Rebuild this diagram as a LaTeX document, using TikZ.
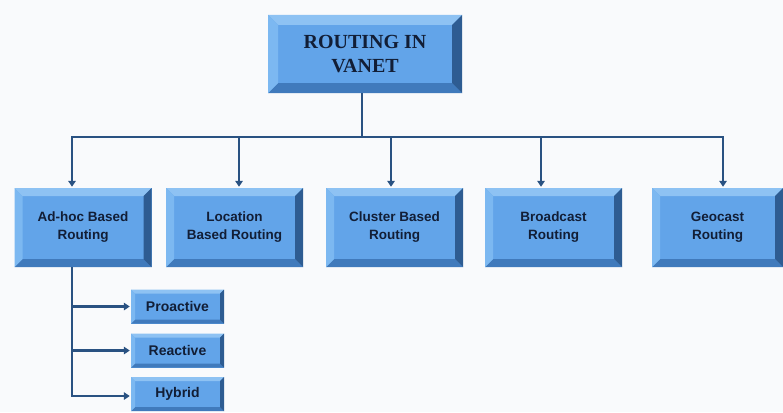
\documentclass[tikz,border=0pt]{standalone}
\usepackage{fontspec}
\setmainfont{Liberation Sans}
\newfontfamily\serifbold{Liberation Serif}
\usetikzlibrary{arrows.meta}
\definecolor{face}{RGB}{98,164,233}
\definecolor{bevT}{RGB}{142,194,243}
\definecolor{bevL}{RGB}{124,184,241}
\definecolor{bevR}{RGB}{46,92,146}
\definecolor{bevB}{RGB}{64,122,188}
\definecolor{lineC}{RGB}{42,82,130}
\definecolor{txt}{RGB}{18,30,54}
\definecolor{bg}{RGB}{249,250,252}
\tikzset{
 bevelbox/.style={fill=face, inner sep=0pt, align=center, text=txt,
  font=\bfseries\fontsize{13.5}{18}\selectfont,
  path picture={
   \fill[bevT] (path picture bounding box.north west) -- (path picture bounding box.north east)
     -- ([xshift=-#1pt,yshift=-#1pt]path picture bounding box.north east)
     -- ([xshift=#1pt,yshift=-#1pt]path picture bounding box.north west) -- cycle;
   \fill[bevB] (path picture bounding box.south west) -- (path picture bounding box.south east)
     -- ([xshift=-#1pt,yshift=#1pt]path picture bounding box.south east)
     -- ([xshift=#1pt,yshift=#1pt]path picture bounding box.south west) -- cycle;
   \fill[bevL] (path picture bounding box.north west) -- (path picture bounding box.south west)
     -- ([xshift=#1pt,yshift=#1pt]path picture bounding box.south west)
     -- ([xshift=#1pt,yshift=-#1pt]path picture bounding box.north west) -- cycle;
   \fill[bevR] (path picture bounding box.north east) -- (path picture bounding box.south east)
     -- ([xshift=-#1pt,yshift=#1pt]path picture bounding box.south east)
     -- ([xshift=-#1pt,yshift=-#1pt]path picture bounding box.north east) -- cycle;
  }},
 rowbox/.style={bevelbox=8, minimum width=137pt, minimum height=79pt},
 subbox/.style={bevelbox=4, minimum width=93pt, minimum height=34pt,
  font=\bfseries\fontsize{14}{18}\selectfont},
 conn/.style={draw=lineC, line width=2.5pt},
 arr/.style={conn, -{Triangle[length=6pt,width=7.5pt]}, shorten >=1pt},
}
\begin{document}
\begin{tikzpicture}[x=1pt,y=-1pt]
\fill[bg] (0,0) rectangle (783,412);
\useasboundingbox (0,0) rectangle (783,412);

\node[bevelbox=10, minimum width=194pt, minimum height=78pt,
      font=\serifbold\bfseries\fontsize{20}{24}\selectfont] (top) at (365,54) {ROUTING IN\\VANET};

\node[rowbox] (adhoc) at (83,227.5) {Ad-hoc Based\\Routing};
\node[rowbox] (loc) at (234.5,227.5) {Location\\Based Routing};
\node[rowbox] (clu) at (394.5,227.5) {Cluster Based\\Routing};
\node[rowbox] (bro) at (553.5,227.5) {Broadcast\\Routing};
\node[rowbox, minimum width=131pt] (geo) at (717.5,227.5) {Geocast\\Routing};

\node[subbox] (pro) at (177.5,306.5) {Proactive};
\node[subbox] (rea) at (177.5,350.5) {Reactive};
\node[subbox] (hyb) at (177.5,394) {Hybrid};

\coordinate (j) at (362,137);
\coordinate (b1) at (72,137);
\coordinate (b2) at (239,137);
\coordinate (b3) at (391,137);
\coordinate (b4) at (541,137);
\coordinate (b5) at (723,137);
\coordinate (s0) at (72,396);

\draw[conn] (top.south -| j) -- (j);
\draw[conn, line cap=rect] (b1) -- (b5);
\draw[arr] (b1) -- (b1 |- adhoc.north);
\draw[arr] (b2) -- (b2 |- loc.north);
\draw[arr] (b3) -- (b3 |- clu.north);
\draw[arr] (b4) -- (b4 |- bro.north);
\draw[arr] (b5) -- (b5 |- geo.north);

\draw[conn] (adhoc.south -| s0) -- (s0);
\draw[arr] (s0 |- pro.west) -- (pro.west);
\draw[arr] (s0 |- rea.west) -- (rea.west);
\draw[arr, line cap=rect] (s0) -- (s0 -| hyb.west);
\end{tikzpicture}
\end{document}
